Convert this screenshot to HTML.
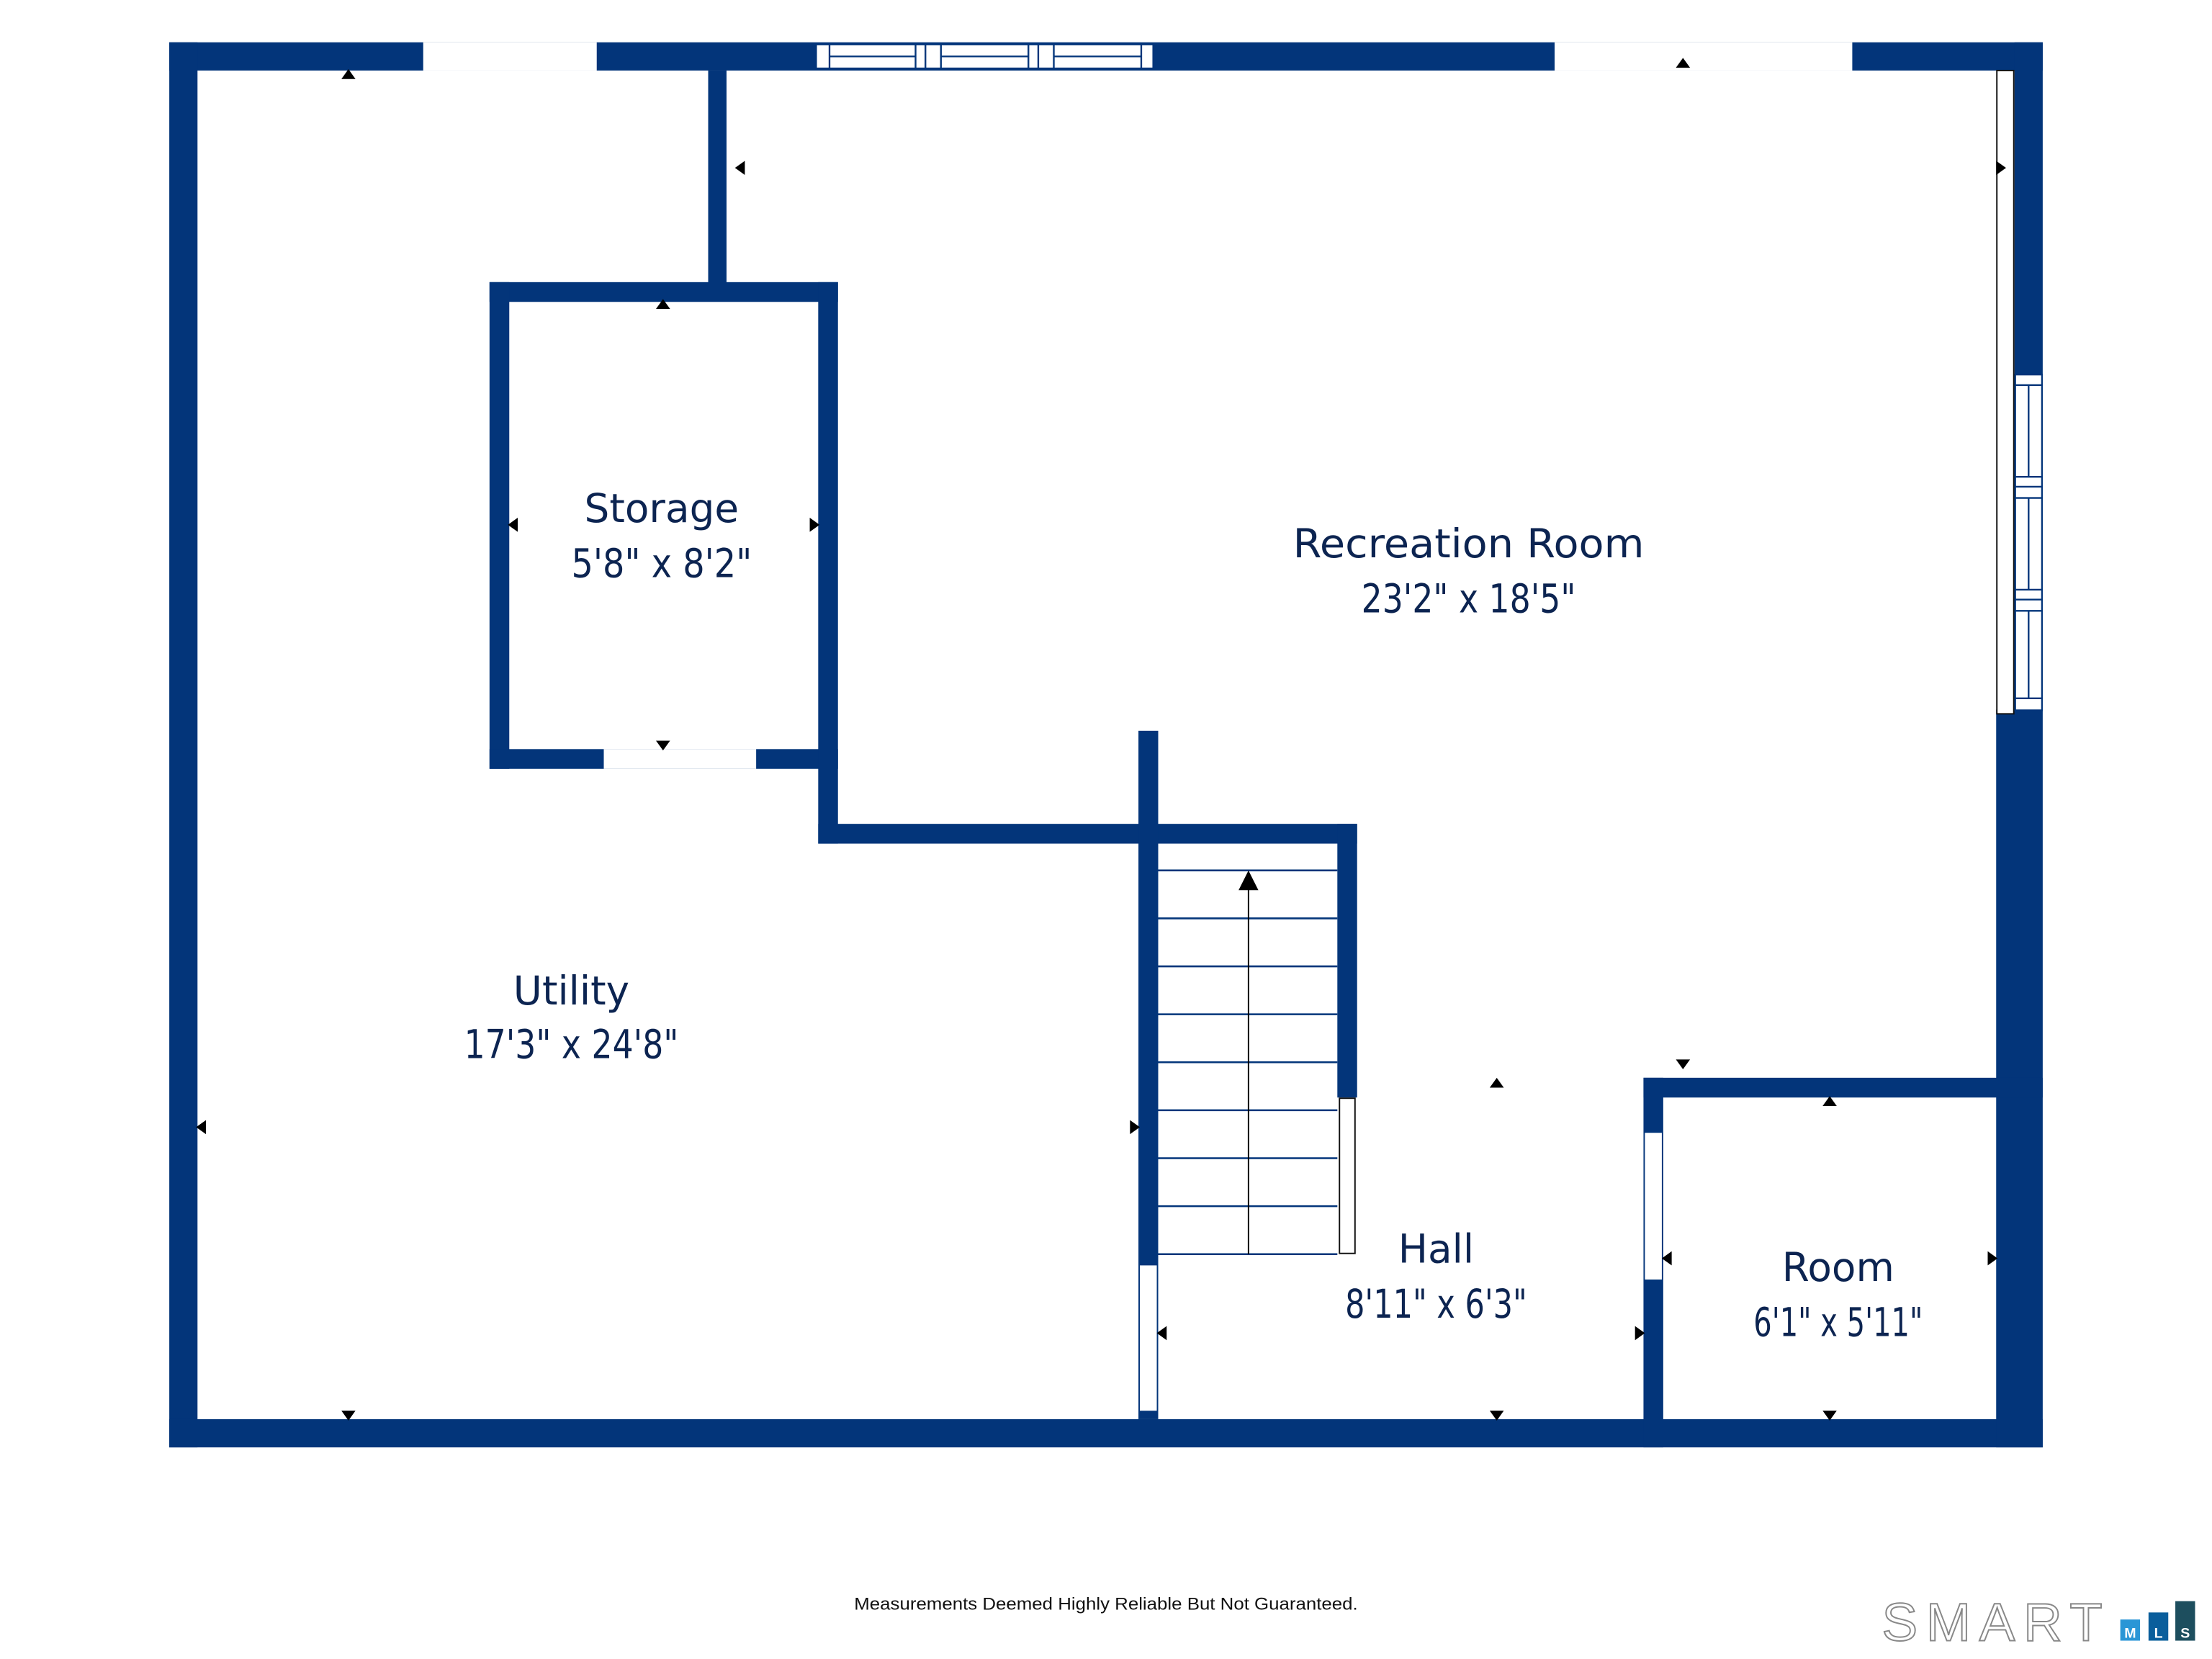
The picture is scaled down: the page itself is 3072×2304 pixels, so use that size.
<!DOCTYPE html>
<html><head><meta charset="utf-8"><style>
html,body{margin:0;padding:0;background:#fff;}
svg{display:block;}
</style></head><body>
<svg width="3072" height="2304" viewBox="0 0 1568 1176" xmlns="http://www.w3.org/2000/svg">
<rect width="1568" height="1176" fill="#fff"/>
<g fill="#03357a">
<rect x="120" y="30" width="1328" height="20"/>
<rect x="120" y="30" width="20" height="996"/>
<rect x="120" y="1006" width="1328" height="20"/>
<rect x="1428" y="30" width="20" height="236"/>
<rect x="1415" y="503" width="33" height="523"/>
<rect x="502" y="50" width="13" height="163"/>
<rect x="347" y="200" width="247" height="14"/>
<rect x="347" y="200" width="14" height="345"/>
<rect x="347" y="531" width="247" height="14"/>
<rect x="580" y="200" width="14" height="398"/>
<rect x="580" y="584" width="382" height="14"/>
<rect x="807" y="518" width="14" height="488"/>
<rect x="948" y="584" width="14" height="194"/>
<rect x="1165" y="764" width="283" height="14"/>
<rect x="1165" y="764" width="14" height="262"/>
</g>
<g fill="#fff">
<rect x="300" y="30" width="123" height="20"/>
<rect x="1102" y="30" width="211" height="20"/>
<rect x="428" y="531" width="108" height="14"/>
<rect x="808" y="897" width="12" height="103"/>
<rect x="1166" y="803" width="12" height="104"/>
</g>
<g fill="#fff" stroke="#03357a" stroke-width="1.2">
<rect x="578.5" y="31.5" width="239" height="17"/>
<line x1="588" y1="31" x2="588" y2="49"/>
<line x1="649" y1="31" x2="649" y2="49"/>
<line x1="656" y1="31" x2="656" y2="49"/>
<line x1="667" y1="31" x2="667" y2="49"/>
<line x1="729" y1="31" x2="729" y2="49"/>
<line x1="736" y1="31" x2="736" y2="49"/>
<line x1="747" y1="31" x2="747" y2="49"/>
<line x1="809" y1="31" x2="809" y2="49"/>
<line x1="588" y1="40" x2="649" y2="40"/>
<line x1="667" y1="40" x2="729" y2="40"/>
<line x1="747" y1="40" x2="809" y2="40"/>
</g>
<rect x="1415.5" y="50" width="12" height="456" fill="#fff" stroke="#111" stroke-width="1"/>
<g fill="#fff" stroke="#03357a" stroke-width="1.2">
<rect x="1428.5" y="265.5" width="19" height="238"/>
<line x1="1428" y1="273" x2="1448" y2="273"/>
<line x1="1428" y1="338" x2="1448" y2="338"/>
<line x1="1428" y1="345" x2="1448" y2="345"/>
<line x1="1428" y1="353" x2="1448" y2="353"/>
<line x1="1428" y1="418" x2="1448" y2="418"/>
<line x1="1428" y1="425" x2="1448" y2="425"/>
<line x1="1428" y1="433" x2="1448" y2="433"/>
<line x1="1428" y1="495" x2="1448" y2="495"/>
<line x1="1438" y1="273" x2="1438" y2="338"/>
<line x1="1438" y1="353" x2="1438" y2="418"/>
<line x1="1438" y1="433" x2="1438" y2="495"/>
</g>
<rect x="949.5" y="778.5" width="11" height="110" fill="#fff" stroke="#111" stroke-width="1"/>
<g stroke="#03357a" stroke-width="1.3">
<line x1="821" y1="617" x2="948" y2="617"/>
<line x1="821" y1="651" x2="948" y2="651"/>
<line x1="821" y1="685" x2="948" y2="685"/>
<line x1="821" y1="719" x2="948" y2="719"/>
<line x1="821" y1="753" x2="948" y2="753"/>
<line x1="821" y1="787" x2="948" y2="787"/>
<line x1="821" y1="821" x2="948" y2="821"/>
<line x1="821" y1="855" x2="948" y2="855"/>
<line x1="821" y1="889" x2="948" y2="889"/>
</g>
<line x1="885" y1="889" x2="885" y2="628" stroke="#000" stroke-width="1"/>
<polygon points="885,617 878,631 892,631" fill="#000"/>
<g fill="#000">
<polygon points="247,49 242,56 252,56"/>
<polygon points="247,1007 242,1000 252,1000"/>
<polygon points="139,799 146,794 146,804"/>
<polygon points="808,799 801,794 801,804"/>
<polygon points="521,119 528,114 528,124"/>
<polygon points="1422,119 1415,114 1415,124"/>
<polygon points="1193,41 1188,48 1198,48"/>
<polygon points="1193,758 1188,751 1198,751"/>
<polygon points="470,212 465,219 475,219"/>
<polygon points="470,532 465,525 475,525"/>
<polygon points="360,372 367,367 367,377"/>
<polygon points="581,372 574,367 574,377"/>
<polygon points="1061,764 1056,771 1066,771"/>
<polygon points="1061,1007 1056,1000 1066,1000"/>
<polygon points="820,945 827,940 827,950"/>
<polygon points="1166,945 1159,940 1159,950"/>
<polygon points="1297,777 1292,784 1302,784"/>
<polygon points="1297,1007 1292,1000 1302,1000"/>
<polygon points="1178,892 1185,887 1185,897"/>
<polygon points="1416,892 1409,887 1409,897"/>
</g>
<g font-family="'DejaVu Sans','Liberation Sans',sans-serif" font-size="28" fill="#0c2451" text-anchor="middle">
<text x="469" y="370">Storage</text>
<text x="469" y="409" textLength="128" lengthAdjust="spacingAndGlyphs">5'8" x 8'2"</text>
<text x="1041" y="395" textLength="249" lengthAdjust="spacingAndGlyphs">Recreation Room</text>
<text x="1041" y="434" textLength="152" lengthAdjust="spacingAndGlyphs">23'2" x 18'5"</text>
<text x="405" y="712">Utility</text>
<text x="405" y="750" textLength="152" lengthAdjust="spacingAndGlyphs">17'3" x 24'8"</text>
<text x="1018" y="895">Hall</text>
<text x="1018" y="934" textLength="129" lengthAdjust="spacingAndGlyphs">8'11" x 6'3"</text>
<text x="1303" y="908">Room</text>
<text x="1303" y="947" textLength="120" lengthAdjust="spacingAndGlyphs">6'1" x 5'11"</text>
</g>
<text x="784" y="1141" font-family="'Liberation Sans',sans-serif" font-size="12.5" fill="#111" text-anchor="middle" textLength="357" lengthAdjust="spacingAndGlyphs">Measurements Deemed Highly Reliable But Not Guaranteed.</text>
<text x="1334" y="1163" font-family="'Liberation Sans',sans-serif" font-size="38" fill="#fff" stroke="#888" stroke-width="1" letter-spacing="6">SMART</text>
<rect x="1503" y="1148" width="14" height="15" fill="#2a96d6"/>
<rect x="1523" y="1143" width="14" height="20" fill="#0a5e9c"/>
<rect x="1542" y="1135" width="14" height="28" fill="#1d4e5e"/>
<g font-family="'Liberation Sans',sans-serif" font-size="10" font-weight="bold" fill="#fff" text-anchor="middle">
<text x="1510" y="1161">M</text><text x="1530" y="1161">L</text><text x="1549" y="1161">S</text>
</g>
</svg>
</body></html>
